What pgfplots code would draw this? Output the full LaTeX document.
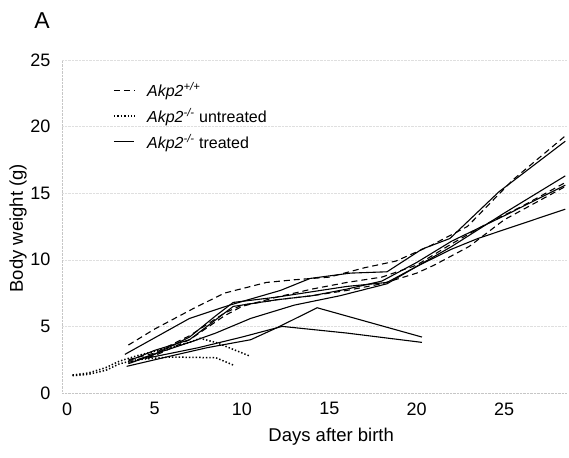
\documentclass[border=0pt]{standalone}
\usepackage{fontspec}
\setmainfont{Liberation Sans}
\usepackage{pgfplots}
\pgfplotsset{compat=1.18}
\begin{document}
\begin{tikzpicture}
\begin{axis}[
    name=ax,
    scale only axis, width=505pt, height=333pt,
    xmin=-0.3, xmax=28.6, ymin=0, ymax=25,
    xtick={0,5,...,25}, ytick={0,5,...,25},
    axis x line=bottom, axis y line=left,
    axis line style={gray!45, densely dotted, -},
    ymajorgrids, grid style={gray!25, densely dotted},
    major tick length=0pt,
    tick label style={font=\fontsize{18}{20}\selectfont},
    /pgf/number format/assume math mode=true,
    xticklabel style={yshift=-6pt},
    yticklabel style={xshift=-8pt},
    xlabel={Days after birth}, ylabel={Body weight (g)},
    label style={font=\fontsize{18.5}{21}\selectfont},
    xlabel style={at={(axis description cs:0.533,-0.132)}, anchor=center},
    ylabel style={at={(axis description cs:-0.087,0.495)}, anchor=center},
    clip=false,
    legend style={draw=none, fill=none, at={(axis description cs:0.095,0.946)},
        anchor=north west, font=\fontsize{16}{18}\selectfont, row sep=6pt,
        column sep=10pt},
    legend cell align=left,
    legend image code/.code={\draw[#1] (0cm,0cm) -- (0.72cm,0cm);},
    every axis plot/.append style={black, line width=1.1pt},
    wt/.style={dash pattern=on 6pt off 4pt},
    un/.style={line width=1.5pt, dash pattern=on 1.4pt off 2pt},
]
\addlegendimage{wt}
\addlegendentry{\textit{Akp2\textsuperscript{+/+}}}
\addlegendimage{un}
\addlegendentry{\textit{Akp2\textsuperscript{-/-}} untreated}
\addlegendimage{}
\addlegendentry{\textit{Akp2\textsuperscript{-/-}} treated}

% wild type
\addplot[wt, forget plot] coordinates {(3.5,3.6) (5,4.8) (7.3,6.4) (9,7.5) (11.4,8.3) (13,8.5) (15,8.7) (17,9.4) (18.8,9.9) (20.7,11.0) (22.9,12.5) (25.5,16.0) (28.5,19.3)};
\addplot[wt, forget plot] coordinates {(3.5,2.5) (5,3.0) (7,4.3) (9,6.0) (10,6.6) (12,7.0) (14,7.3) (16,7.7) (18,8.2) (20,9.0) (21,9.6) (23,11.0) (25,13.0) (28.5,15.5)};
\addplot[wt, forget plot] coordinates {(3.5,2.3) (5,2.8) (7,4.0) (9,5.8) (10,6.5) (12,7.2) (14,7.8) (16,8.3) (18,8.7) (20,9.6) (22,11.2) (24,12.7) (26,14.0) (28.5,15.8)};

% untreated
\addplot[un, forget plot] coordinates {(0.3,1.3) (1.2,1.4) (2.2,1.7) (3,2.2) (4,2.5) (5.8,2.7) (8.5,2.65) (9.5,2.1)};
\addplot[un, forget plot] coordinates {(0.3,1.35) (1.2,1.5) (2.2,1.9) (3,2.4) (4,2.8) (5.5,3.3) (7,3.8) (7.6,4.1) (8.5,3.8) (10.4,2.8)};

% treated
\addplot[forget plot] coordinates {(3.3,2.9) (7,5.6) (9.3,6.6) (12.2,7.7) (13.9,8.6) (16.2,9.0) (18.3,9.1) (20.3,10.8) (21.9,11.6) (24.7,15.1) (28.5,18.9)};
\addplot[forget plot] coordinates {(3.5,2.2) (5,2.9) (7,4.2) (8.5,5.8) (9.5,6.8) (12,7.2) (14,7.6) (16,8.0) (18.3,8.3) (20,9.5) (22,11.0) (25,13.5) (28.5,16.3)};
\addplot[forget plot] coordinates {(3.5,2.4) (5,3.2) (7,4.0) (8.5,5.5) (9.5,6.5) (12,7.0) (14,7.3) (16,7.8) (18,8.4) (20,9.8) (22,11.4) (25,13.3) (28.5,15.6)};
\addplot[forget plot] coordinates {(4,2.5) (7,3.8) (8.5,4.5) (10.5,5.6) (13,6.6) (15.6,7.3) (18.3,8.2) (20,9.5) (22,10.8) (23.5,11.6) (28.5,13.8)};
\addplot[forget plot] coordinates {(3.4,2.0) (6,2.8) (8,3.4) (10.5,4.0) (12,4.9) (14.3,6.4) (20.3,4.2)};
\addplot[forget plot] coordinates {(4.5,2.6) (7.5,3.4) (10,4.2) (12.3,5.0) (16,4.5) (20.3,3.8)};

\node[anchor=base west, inner sep=0pt, font=\fontsize{23}{26}\selectfont] at (axis description cs:-0.055,1.096) {A};
\end{axis}
\pgfresetboundingbox
\path ([xshift=-62pt,yshift=-64pt]ax.south west) rectangle ([xshift=2pt,yshift=60pt]ax.north east);
\end{tikzpicture}
\end{document}
